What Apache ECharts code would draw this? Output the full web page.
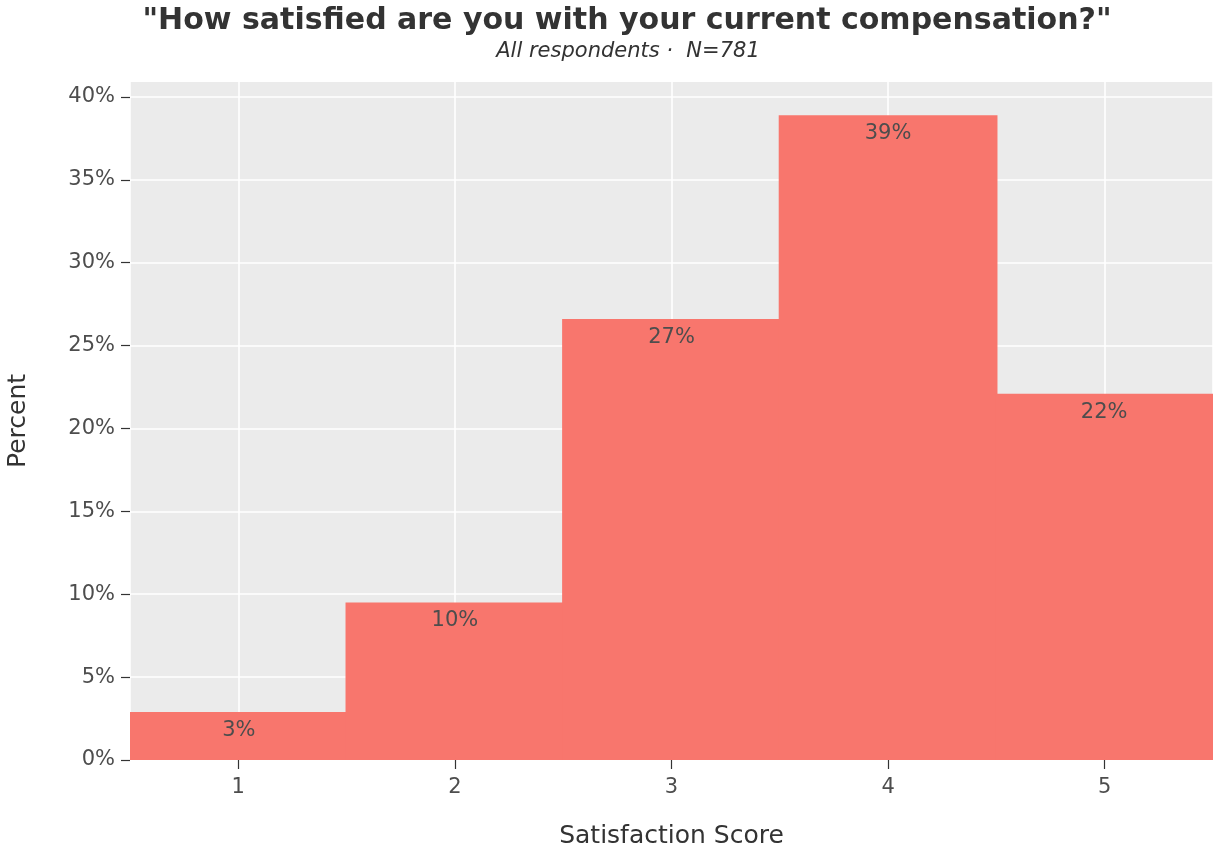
<!DOCTYPE html>
<html>
<head>
<meta charset="utf-8">
<script src="https://cdn.jsdelivr.net/npm/echarts@6/dist/echarts.min.js"></script>
<style>
  html, body { margin: 0; padding: 0; background: #fff; }
  #chart { width: 1213px; height: 850px; }
</style>
</head>
<body>
<div id="chart"></div>
<script>
// Satisfaction scores (1–5) and the share of respondents giving each score
const scores = ['1', '2', '3', '4', '5'];
const percents = [2.9, 9.5, 26.6, 38.9, 22.1];
const totalN = 781;
const yTicks = [0, 5, 10, 15, 20, 25, 30, 35, 40];

const font = 'DejaVu Sans';
const textColor = '#4d4d4d';
const barColor = '#f8766d';

const chart = echarts.init(document.getElementById('chart'), null, { renderer: 'canvas' });

chart.setOption({
  backgroundColor: '#ffffff',
  animation: false,
  title: [
    {
      text: '"How satisfied are you with your current compensation?"',
      left: 622, top: 1, textAlign: 'center',
      textStyle: { fontFamily: font, fontWeight: 'bold', fontSize: 30, color: '#333333' }
    },
    {
      text: 'All respondents ·  N=' + totalN,
      left: 623, top: 36, textAlign: 'center',
      textStyle: { fontFamily: font, fontStyle: 'italic', fontWeight: 'normal', fontSize: 21, color: '#333333' }
    }
  ],
  grid: {
    left: 130, right: 0, top: 82, bottom: 90,
    outerBoundsMode: 'none', containLabel: false,
    show: true, backgroundColor: '#ebebeb', borderWidth: 0
  },
  xAxis: [
    {
      type: 'category',
      data: scores,
      boundaryGap: true,
      name: 'Satisfaction Score',
      nameLocation: 'middle',
      nameGap: 64,
      nameTextStyle: { fontFamily: font, fontSize: 25, color: '#333333' },
      axisLine: { show: false },
      axisTick: { show: true, alignWithLabel: true, length: 9, lineStyle: { color: '#333333', width: 1.2 } },
      axisLabel: { fontFamily: font, fontSize: 21, color: textColor, margin: 17 },
      splitLine: { show: false }
    },
    {
      // continuous twin of the score axis, used only for the vertical grid lines
      type: 'value',
      min: 0.5,
      max: 5.5,
      position: 'bottom',
      axisLine: { show: false },
      axisTick: { show: false },
      axisLabel: { show: false },
      splitLine: { show: true, lineStyle: { color: '#ffffff', width: 1.6 } }
    }
  ],
  yAxis: {
    type: 'value',
    min: 0,
    max: 40.9,
    interval: 5,
    name: 'Percent',
    nameLocation: 'middle',
    nameGap: 99,
    nameRotate: 90,
    nameTextStyle: { fontFamily: font, fontSize: 25, color: '#333333' },
    axisLine: { show: false },
    axisTick: { show: true, length: 9, customValues: yTicks, lineStyle: { color: '#333333', width: 1.2 } },
    axisLabel: {
      fontFamily: font, fontSize: 21, color: textColor, margin: 15,
      customValues: yTicks,
      formatter: v => v + '%'
    },
    splitLine: { show: true, lineStyle: { color: '#ffffff', width: 1.6 } }
  },
  series: [
    {
      type: 'bar',
      xAxisIndex: 0,
      data: percents,
      // slight overlap so adjacent bins join without a hairline seam
      barWidth: '101%',
      barCategoryGap: 0,
      clip: true,
      itemStyle: { color: barColor },
      label: {
        show: true,
        position: 'insideTop',
        distance: 8,
        fontFamily: font,
        fontSize: 21,
        color: textColor,
        formatter: p => Math.round(p.value) + '%'
      }
    }
  ]
});
</script>
</body>
</html>
